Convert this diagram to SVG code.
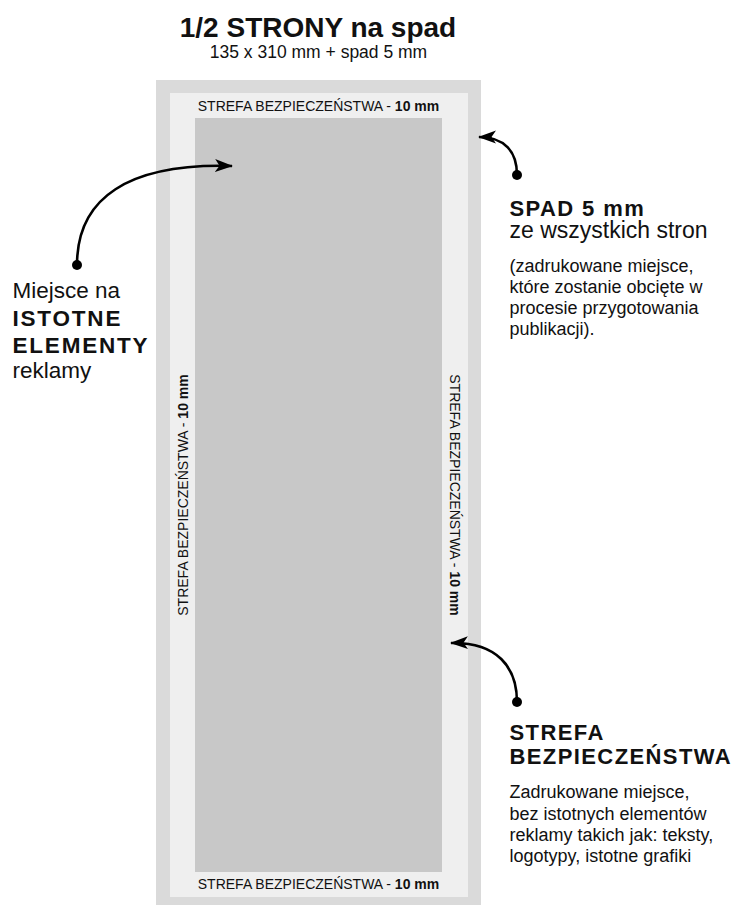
<svg xmlns="http://www.w3.org/2000/svg" width="731" height="905" viewBox="0 0 731 905">
<style>
text{font-family:"Liberation Sans",Arial,sans-serif;fill:#111;}
.b{font-weight:bold;}
.zone{font-size:14px;}
.head{font-size:22px;font-weight:bold;letter-spacing:1.4px;}
.big{font-size:22.5px;}
.p{font-size:18px;}
.conn{fill:none;stroke:#000;stroke-width:2.6;}
</style>
<defs>
<marker id="arr" markerUnits="userSpaceOnUse" markerWidth="20" markerHeight="16" viewBox="0 0 20 16" refX="17" refY="8" orient="auto">
<path d="M0,1.5 L18,8 L0,14.5 L4.5,8 Z" fill="#000"/>
</marker>
<marker id="dot" markerUnits="userSpaceOnUse" markerWidth="12" markerHeight="12" viewBox="0 0 12 12" refX="6" refY="6">
<circle cx="6" cy="6" r="5" fill="#000"/>
</marker>
</defs>
<rect width="731" height="905" fill="#fff"/>
<g id="title">
<text x="318" y="37" font-size="28" class="b" text-anchor="middle">1/2 STRONY na spad</text>
<text x="318.5" y="58" font-size="17.5" text-anchor="middle">135 x 310 mm + spad 5 mm</text>
</g>
<g id="page">
<rect x="156" y="80" width="325" height="830" fill="#dadada"/>
<rect x="170" y="93" width="298" height="804" fill="#efefef"/>
<rect x="195" y="118" width="247" height="754" fill="#c8c8c8"/>
<text class="zone" x="318.5" y="110.5" text-anchor="middle">STREFA BEZPIECZEŃSTWA - <tspan class="b">10 mm</tspan></text>
<text class="zone" x="318.5" y="889" text-anchor="middle">STREFA BEZPIECZEŃSTWA - <tspan class="b">10 mm</tspan></text>
<text class="zone" transform="translate(187.5,495) rotate(-90)" text-anchor="middle">STREFA BEZPIECZEŃSTWA - <tspan class="b">10 mm</tspan></text>
<text class="zone" transform="translate(449.5,495) rotate(90)" text-anchor="middle">STREFA BEZPIECZEŃSTWA - <tspan class="b">10 mm</tspan></text>
</g>
<g id="label-left">
<text class="big" x="12.5" y="297.5">Miejsce na</text>
<text class="big b" x="12.5" y="325.5" letter-spacing="1.8">ISTOTNE</text>
<text class="big b" x="12.5" y="353" letter-spacing="1.8">ELEMENTY</text>
<text class="big" x="12.5" y="378">reklamy</text>
</g>
<g id="label-spad">
<text class="head" x="509.5" y="215.5">SPAD 5 mm</text>
<text x="509.5" y="237.5" font-size="23">ze wszystkich stron</text>
<text class="p" x="509.5" y="271.5">(zadrukowane miejsce,</text>
<text class="p" x="509.5" y="292.5">które zostanie obcięte w</text>
<text class="p" x="509.5" y="314">procesie przygotowania</text>
<text class="p" x="509.5" y="335">publikacji).</text>
</g>
<g id="label-strefa">
<text class="head" x="509.5" y="740">STREFA</text>
<text class="head" x="509.5" y="763.5">BEZPIECZEŃSTWA</text>
<text class="p" x="509.5" y="798">Zadrukowane miejsce,</text>
<text class="p" x="509.5" y="819.5">bez istotnych elementów</text>
<text class="p" x="509.5" y="841">reklamy takich jak: teksty,</text>
<text class="p" x="509.5" y="862">logotypy, istotne grafiki</text>
</g>
<g id="connectors">
<path class="conn" d="M77,265 C77,198 128,163 232,166" marker-start="url(#dot)" marker-end="url(#arr)"/>
<path class="conn" d="M517,175 C517,152 505,137 479,137" marker-start="url(#dot)" marker-end="url(#arr)"/>
<path class="conn" d="M517,702 C517,667 497,642 451,643" marker-start="url(#dot)" marker-end="url(#arr)"/>
</g>
</svg>
